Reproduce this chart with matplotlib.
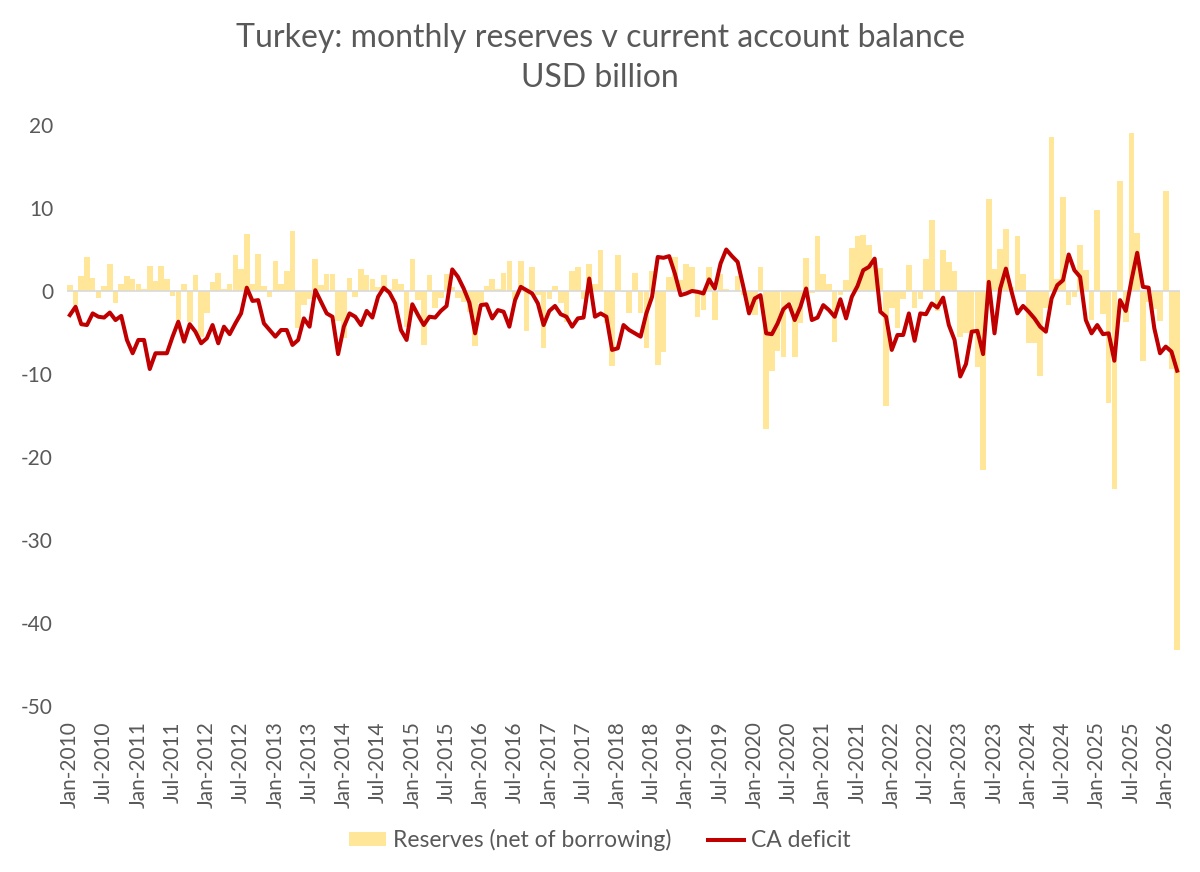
import numpy as np
import pandas as pd
import matplotlib
matplotlib.use('Agg')
import matplotlib.pyplot as plt
from matplotlib.patches import Patch
from matplotlib.lines import Line2D

plt.rcParams['font.family'] = ['Lato', 'DejaVu Sans']
plt.rcParams['axes.unicode_minus'] = False

# monthly, Jan-2010 .. Mar-2026
months = pd.date_range('2010-01-01', periods=195, freq='MS')

# reserves (net of borrowing), USD bn
reserves = [
    0.7, -1.7, 1.8, 4.1, 1.6, -0.8, 0.6, 3.3, -1.5, 0.8, 1.8, 1.4,
    0.8, 0.3, 3.0, 1.2, 3.0, 1.5, -0.6, -3.5, 0.8, -3.7, 1.9, -5.5,
    -2.7, 1.1, 2.2, 0.3, 0.8, 4.3, 2.6, 6.9, 0.8, 4.4, 0.6, -0.7,
    3.6, 0.9, 2.4, 7.2, -4.4, -1.7, -1.0, 3.9, 0.7, 2.1, 2.1, -3.6,
    -5.7, 1.6, -0.7, 2.7, 1.9, 1.4, 0.5, 1.9, 0.3, 1.4, 0.8, -4.3,
    3.9, -1.1, -6.5, 1.9, -2.0, -0.8, 2.0, 0.5, -0.8, -1.3, -2.5, -6.6,
    -1.5, 0.6, 1.4, 0.2, 2.2, 3.6, -1.0, 3.6, -4.8, 2.9, -0.5, -6.9,
    -1.0, 0.6, -1.5, -3.7, 2.4, 2.9, -1.0, 3.3, 0.8, 4.9, -3.9, -9.0,
    4.3, -0.1, -2.7, 2.2, -2.7, -6.9, 2.4, -8.9, -7.4, 1.7, 4.1, 1.3,
    3.2, 2.9, -3.1, -2.3, 2.9, -3.5, 2.1, 0.3, 0.0, 1.8, -0.5, -2.5,
    -2.9, 2.9, -16.6, -9.6, -7.2, -8.0, -1.5, -8.0, -3.9, 4.0, -0.3, 6.6,
    2.1, 0.9, -6.1, -0.5, 1.3, 5.2, 6.6, 6.7, 5.5, 3.0, 2.8, -13.8,
    -2.1, -4.5, -1.0, 3.1, -2.1, -1.0, 3.9, 8.6, -2.4, 4.9, 3.5, 2.4,
    -5.5, -5.1, -4.9, -9.1, -21.6, 11.1, 2.7, 5.1, 7.5, 0.5, 6.6, 2.0,
    -6.3, -6.3, -10.2, -2.1, 18.6, 1.4, 11.3, -1.7, -0.7, 5.5, 2.5, -3.5,
    9.8, -2.8, -13.5, -23.8, 13.3, -3.7, 19.0, 7.0, -8.4, -1.3, -2.2, -3.6,
    12.1, -9.4, -43.3,
]

# current account balance, USD bn
ca_deficit = [
    -2.9, -1.9, -4.0, -4.1, -2.7, -3.1, -3.2, -2.6, -3.5, -3.0, -5.9, -7.5,
    -5.9, -5.9, -9.4, -7.5, -7.5, -7.5, -5.5, -3.7, -6.1, -4.0, -4.9, -6.3,
    -5.7, -4.1, -6.3, -4.3, -5.2, -3.9, -2.7, 0.4, -1.2, -1.1, -3.9, -4.7,
    -5.5, -4.7, -4.7, -6.5, -5.9, -3.3, -4.3, 0.1, -1.3, -2.7, -3.1, -7.6,
    -4.3, -2.7, -3.1, -4.1, -2.4, -3.2, -0.7, 0.4, -0.2, -1.5, -4.7, -5.9,
    -1.6, -2.9, -4.1, -3.1, -3.2, -2.4, -1.8, 2.6, 1.7, 0.3, -1.4, -5.1,
    -1.7, -1.6, -3.3, -2.3, -2.5, -4.3, -1.1, 0.5, 0.1, -0.3, -1.5, -4.1,
    -2.4, -1.8, -2.8, -3.1, -4.3, -3.3, -3.2, 1.5, -3.1, -2.7, -3.1, -7.1,
    -6.9, -4.1, -4.7, -5.1, -5.5, -2.7, -0.7, 4.1, 4.0, 4.2, 2.1, -0.5,
    -0.3, 0.0, -0.1, -0.3, 1.4, 0.3, 3.3, 5.0, 4.2, 3.5, 0.5, -2.7,
    -0.9, -0.5, -5.1, -5.2, -3.9, -2.2, -1.6, -3.5, -1.9, 0.3, -3.5, -3.2,
    -1.7, -2.3, -3.1, -1.0, -3.3, -0.7, 0.6, 2.5, 2.9, 3.9, -2.5, -3.1,
    -7.1, -5.3, -5.3, -2.7, -6.0, -2.7, -2.8, -1.5, -2.0, -0.8, -4.1, -5.9,
    -10.3, -8.8, -4.9, -4.8, -7.6, 1.1, -5.1, 0.3, 2.7, -0.1, -2.7, -1.8,
    -2.5, -3.3, -4.3, -4.9, -0.9, 0.7, 1.3, 4.4, 2.5, 1.7, -3.5, -5.1,
    -4.1, -5.2, -5.1, -8.4, -1.1, -2.4, 1.3, 4.6, 0.5, 0.4, -4.5, -7.5,
    -6.7, -7.3, -9.6,
]

tick_labels = [d.strftime('%b-%Y') for d in months]

grey = '#595959'
bar_col = '#FFE699'
line_col = '#C00000'

fig = plt.figure(figsize=(12, 8.72), dpi=100)
ax = fig.add_axes([67/1200, 1 - 706/872, (1180 - 67)/1200, (706 - 125)/872])

x = np.arange(len(months))
ax.bar(x, reserves, width=0.98, color=bar_col, linewidth=0, zorder=1)
ax.axhline(0, color='#D9D9D9', linewidth=1.2, zorder=2)
ax.plot(x, ca_deficit, color=line_col, linewidth=2.9, zorder=3,
        solid_joinstyle='round')

ax.set_xlim(-0.5, len(months) - 0.5)
ax.set_ylim(-50, 20)
ax.set_yticks(range(-50, 21, 10))
ax.set_xticks(x[::6])
ax.set_xticklabels(tick_labels[::6], rotation=90)

for s in ax.spines.values():
    s.set_visible(False)
ax.tick_params(axis='y', length=0, pad=10, labelsize=15, labelcolor=grey)
ax.tick_params(axis='x', length=0, pad=11, labelsize=15, labelcolor=grey)

fig.text(0.5, 1 - 38/872, 'Turkey: monthly reserves v current account balance',
         ha='center', va='center', fontsize=23, color=grey)
fig.text(0.5, 1 - 78/872, 'USD billion',
         ha='center', va='center', fontsize=23, color=grey)

handles = [Patch(facecolor=bar_col, edgecolor='none'),
           Line2D([0], [0], color=line_col, linewidth=2.9)]
fig.legend(handles, ['Reserves (net of borrowing)', 'CA deficit'],
           loc='center', bbox_to_anchor=(0.5, 1 - 840/872), ncol=2,
           frameon=False, fontsize=16.5, labelcolor=grey,
           handlelength=1.6, handleheight=0.55, handletextpad=0.3,
           columnspacing=1.6)

fig.savefig('out.png', dpi=100, facecolor='white')
